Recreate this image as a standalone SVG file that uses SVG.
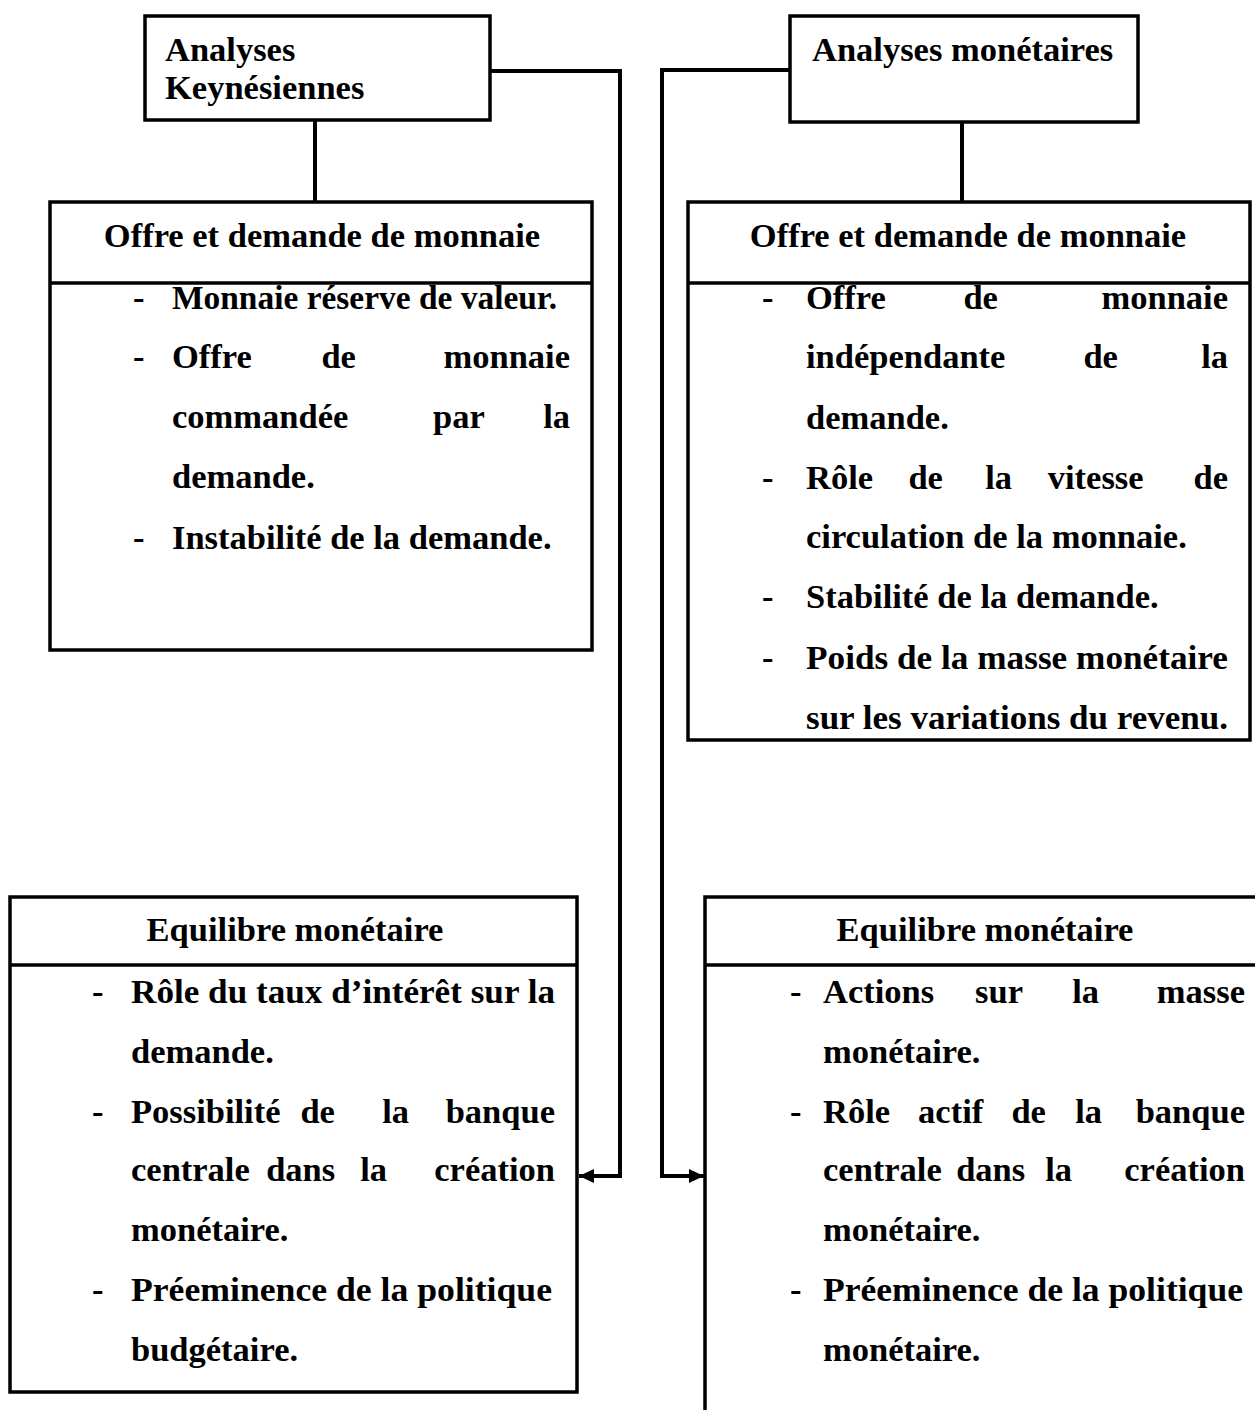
<svg xmlns="http://www.w3.org/2000/svg" width="1255" height="1410" viewBox="0 0 1255 1410">
<defs>
<style>
.box{fill:none;stroke:#000;stroke-width:3.5}
.ln{fill:none;stroke:#000;stroke-width:4}
text{font-family:"Liberation Serif","Times New Roman",serif;font-weight:bold;font-size:34.5px;fill:#000}
.c{text-anchor:middle}
.e{text-anchor:end}
.m{text-anchor:middle}
</style>
<marker id="ah" markerUnits="userSpaceOnUse" markerWidth="16" markerHeight="14" refX="15" refY="7" orient="auto">
<path d="M0,0 L15,7 L0,14 Z" fill="#000"/>
</marker>
</defs>
<rect width="1255" height="1410" fill="#fff"/>
<g id="connectors">
<path class="ln" d="M315,120 V202"/>
<path class="ln" d="M962,122 V202"/>
<path class="ln" d="M490,71 H620 V1176 H579" marker-end="url(#ah)"/>
<path class="ln" d="M790,70 H662 V1176 H704" marker-end="url(#ah)"/>
</g>
<g id="n1">
<rect class="box" x="145" y="16" width="345" height="104"/>
<text x="165" y="61">Analyses</text>
<text x="165" y="99">Keynésiennes</text>
</g>
<g id="n3">
<rect class="box" x="790" y="16" width="348" height="106"/>
<text x="812" y="61">Analyses monétaires</text>
</g>
<g id="n2">
<rect class="box" x="50" y="202" width="542" height="448"/>
<line class="box" x1="50" y1="283" x2="592" y2="283"/>
<text class="c" x="322" y="247">Offre et demande de monnaie</text>
<text x="133" y="309">-</text><text x="172" y="309" textLength="385" lengthAdjust="spacingAndGlyphs">Monnaie réserve de valeur.</text>
<text x="133" y="368">-</text><text y="368"><tspan x="172">Offre</tspan> <tspan class="m" x="343">de</tspan> <tspan class="e" x="570">monnaie</tspan></text>
<text y="428"><tspan x="172">commandée</tspan> <tspan class="m" x="463">par</tspan> <tspan class="e" x="570">la</tspan></text>
<text x="172" y="488">demande.</text>
<text x="133" y="549">-</text><text x="172" y="549">Instabilité de la demande.</text>
</g>
<g id="n4">
<rect class="box" x="688" y="202" width="562" height="538"/>
<line class="box" x1="688" y1="283" x2="1250" y2="283"/>
<text class="c" x="968" y="247">Offre et demande de monnaie</text>
<text x="762" y="309">-</text><text y="309"><tspan x="806">Offre</tspan> <tspan class="m" x="985">de</tspan> <tspan class="e" x="1228">monnaie</tspan></text>
<text y="368"><tspan x="806">indépendante</tspan> <tspan class="m" x="1105">de</tspan> <tspan class="e" x="1228">la</tspan></text>
<text x="806" y="429">demande.</text>
<text x="762" y="489">-</text><text y="489"><tspan x="806">Rôle</tspan> <tspan class="m" x="930">de</tspan> <tspan class="m" x="1003">la</tspan> <tspan class="m" x="1100">vitesse</tspan> <tspan class="e" x="1228">de</tspan></text>
<text x="806" y="548">circulation de la monnaie.</text>
<text x="762" y="608">-</text><text x="806" y="608">Stabilité de la demande.</text>
<text x="762" y="669">-</text><text x="806" y="669" textLength="422" lengthAdjust="spacingAndGlyphs">Poids de la masse monétaire</text>
<text x="806" y="729" textLength="422" lengthAdjust="spacingAndGlyphs">sur les variations du revenu.</text>
</g>
<g id="n5">
<rect class="box" x="10" y="897" width="567" height="495"/>
<line class="box" x1="10" y1="965" x2="577" y2="965"/>
<text class="c" x="295" y="941">Equilibre monétaire</text>
<text x="92" y="1003">-</text><text x="131" y="1003" textLength="424" lengthAdjust="spacingAndGlyphs">Rôle du taux d’intérêt sur la</text>
<text x="131" y="1063">demande.</text>
<text x="92" y="1123">-</text><text y="1123"><tspan x="131">Possibilité</tspan> <tspan class="m" x="322">de</tspan> <tspan class="m" x="400">la</tspan> <tspan class="e" x="555">banque</tspan></text>
<text y="1181"><tspan x="131">centrale</tspan> <tspan class="m" x="305">dans</tspan> <tspan class="m" x="378">la</tspan> <tspan class="e" x="555">création</tspan></text>
<text x="131" y="1241">monétaire.</text>
<text x="92" y="1301">-</text><text x="131" y="1301" textLength="421" lengthAdjust="spacingAndGlyphs">Préeminence de la politique</text>
<text x="131" y="1361">budgétaire.</text>
</g>
<g id="n6">
<path class="box" d="M1255,897 H705 V1410 M705,965 H1255"/>
<text class="c" x="985" y="941">Equilibre monétaire</text>
<text x="790" y="1003">-</text><text y="1003"><tspan x="823">Actions</tspan> <tspan class="m" x="1003">sur</tspan> <tspan class="m" x="1090">la</tspan> <tspan class="e" x="1245">masse</tspan></text>
<text x="823" y="1063">monétaire.</text>
<text x="790" y="1123">-</text><text y="1123"><tspan x="823">Rôle</tspan> <tspan class="m" x="955">actif</tspan> <tspan class="m" x="1033">de</tspan> <tspan class="m" x="1093">la</tspan> <tspan class="e" x="1245">banque</tspan></text>
<text y="1181"><tspan x="823">centrale</tspan> <tspan class="m" x="995">dans</tspan> <tspan class="m" x="1063">la</tspan> <tspan class="e" x="1245">création</tspan></text>
<text x="823" y="1241">monétaire.</text>
<text x="790" y="1301">-</text><text x="823" y="1301" textLength="420" lengthAdjust="spacingAndGlyphs">Préeminence de la politique</text>
<text x="823" y="1361">monétaire.</text>
</g>
</svg>
